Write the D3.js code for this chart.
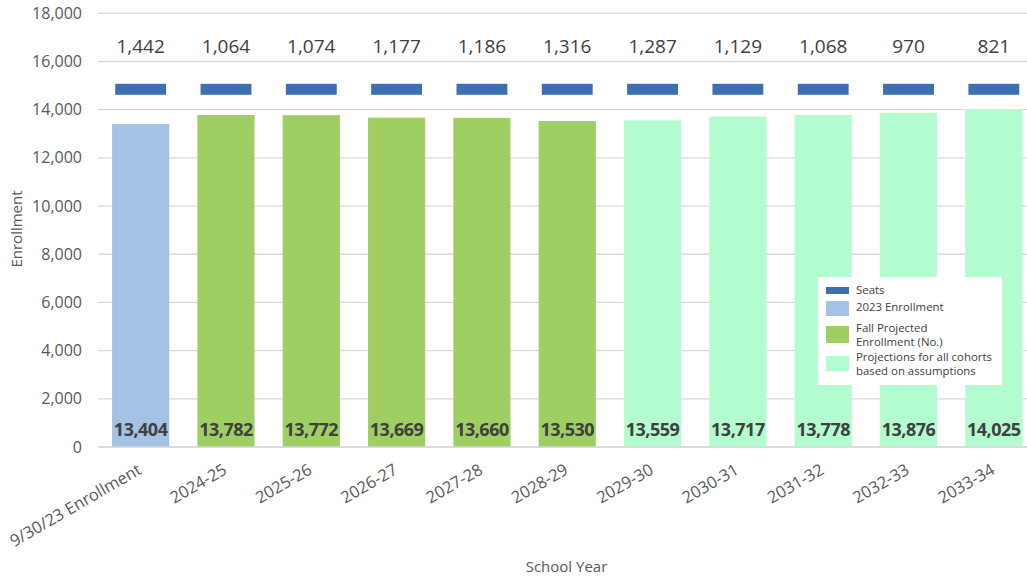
<!DOCTYPE html>
<html><head><meta charset="utf-8">
<script src="https://cdn.jsdelivr.net/npm/d3@7"></script>
<style>
body{margin:0;background:#fff;}
text{font-family:"Open Sans",sans-serif;}
</style></head>
<body><svg id="c" width="1027" height="578"></svg>
<script>
const categories = ["9/30/23 Enrollment","2024-25","2025-26","2026-27","2027-28","2028-29","2029-30","2030-31","2031-32","2032-33","2033-34"];
const enrollment = [13404,13782,13772,13669,13660,13530,13559,13717,13778,13876,14025];
const seatGap = [1442,1064,1074,1177,1186,1316,1287,1129,1068,970,821];
const seriesType = ["2023 Enrollment","Fall Projected Enrollment (No.)","Fall Projected Enrollment (No.)","Fall Projected Enrollment (No.)","Fall Projected Enrollment (No.)","Fall Projected Enrollment (No.)","Projections for all cohorts based on assumptions","Projections for all cohorts based on assumptions","Projections for all cohorts based on assumptions","Projections for all cohorts based on assumptions","Projections for all cohorts based on assumptions"];
const yTicks = [0,2000,4000,6000,8000,10000,12000,14000,16000,18000];
const legendItems = [
  {name:"Seats", lines:["Seats"]},
  {name:"2023 Enrollment", lines:["2023 Enrollment"]},
  {name:"Fall Projected Enrollment (No.)", lines:["Fall Projected","Enrollment (No.)"]},
  {name:"Projections for all cohorts based on assumptions", lines:["Projections for all cohorts","based on assumptions"]}
];
const colors = {
  "Seats":"#3F6FB1",
  "2023 Enrollment":"#A4C2E4",
  "Fall Projected Enrollment (No.)":"#9FCF62",
  "Projections for all cohorts based on assumptions":"#B2FCCF"
};

const svg = d3.select("#c");
const x = d3.scaleBand().domain(categories).range([98,1036.5]).paddingInner(0.33).paddingOuter(0.165);
const y = d3.scaleLinear().domain([0,18000]).range([447,13.3]);
const fmt = d3.format(",");

// gridlines
svg.append("g").selectAll("line").data(yTicks).join("line")
  .attr("x1",98).attr("x2",1027)
  .attr("y1",d=>y(d)).attr("y2",d=>y(d))
  .attr("stroke","#D9D9D9").attr("stroke-width",1.3);

// y tick labels
const yAxis = d3.axisLeft(y).tickValues(yTicks).tickFormat(fmt).tickSize(0).tickPadding(0);
const ya = svg.append("g").attr("transform","translate(82,0)").call(yAxis);
ya.select(".domain").remove();
ya.selectAll("text").attr("fill","#595959").style("font-size","16px").style("font-family","'Open Sans',sans-serif");

// bars
svg.append("g").selectAll("rect").data(categories).join("rect")
  .attr("x",d=>x(d)).attr("width",x.bandwidth())
  .attr("y",(d,i)=>y(enrollment[i]))
  .attr("height",(d,i)=>y(0)-y(enrollment[i]))
  .attr("fill",(d,i)=>colors[seriesType[i]]);

// seats markers
const mw = x.bandwidth()*0.89;
svg.append("g").selectAll("rect").data(categories).join("rect")
  .attr("x",d=>x(d)+x.bandwidth()/2-mw/2).attr("width",mw)
  .attr("y",(d,i)=>y(enrollment[i]+seatGap[i])-5.5).attr("height",11)
  .attr("fill",colors["Seats"]);

// top labels
svg.append("g").selectAll("text").data(categories).join("text")
  .attr("x",d=>x(d)+x.bandwidth()/2).attr("y",53)
  .attr("text-anchor","middle").attr("fill","#404040")
  .style("font-size","19px")
  .text((d,i)=>fmt(seatGap[i]));

// bottom labels
svg.append("g").selectAll("text").data(categories).join("text")
  .attr("x",d=>x(d)+x.bandwidth()/2).attr("y",436)
  .attr("text-anchor","middle").attr("fill","#404040")
  .style("font-size","18px").style("font-weight","bold").attr("letter-spacing","-0.5")
  .text((d,i)=>fmt(enrollment[i]));

// x axis line
const xAxis = d3.axisBottom(x).tickSize(0).tickPadding(0);
const xa = svg.append("g").attr("transform","translate(0,447)").call(xAxis);
xa.select(".domain").attr("stroke","#D9D9D9").attr("stroke-width",1.3).attr("d","M98,0H1027");
xa.selectAll(".tick text")
  .attr("fill","#595959").style("font-size","16.5px").style("font-family","'Open Sans',sans-serif")
  .attr("text-anchor","end").attr("dy",null).attr("y",null)
  .attr("transform","translate(2,26) rotate(-30)");

// axis titles
svg.append("text").attr("x",566.5).attr("y",572).attr("text-anchor","middle")
  .attr("fill","#595959").style("font-size","15px").text("School Year");
svg.append("text").attr("transform","translate(22,229) rotate(-90)").attr("text-anchor","middle")
  .attr("fill","#595959").style("font-size","15px").text("Enrollment");

// legend
const lg = svg.append("g");
lg.append("rect").attr("x",818).attr("y",277).attr("width",184).attr("height",108).attr("fill","#fff");
const sw = [[287,7],[301,15],[326,17],[356,15]];
const tys = [[294],[311],[332,346],[361,375]];
legendItems.forEach((it,i)=>{
  lg.append("rect").attr("x",826).attr("y",sw[i][0]).attr("width",23).attr("height",sw[i][1]).attr("fill",colors[it.name]);
  it.lines.forEach((ln,j)=>{
    lg.append("text").attr("x",856).attr("y",tys[i][j]).attr("fill","#404040").style("font-size","11.4px").text(ln);
  });
});
</script></body></html>
